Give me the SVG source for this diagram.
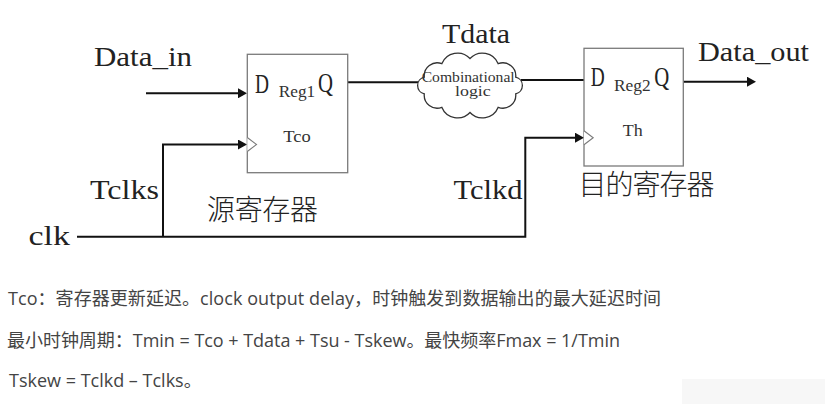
<svg xmlns="http://www.w3.org/2000/svg" width="825" height="404" viewBox="0 0 825 404">
  <style>
    .lbl { font-family: "Liberation Serif", "Times New Roman", serif; fill: #222; }
    .big { font-size: 28px; }
    .mid { font-size: 17px; fill: #333; }
    .small { font-size: 14px; fill: #333; }
    .cjk { font-family: "Noto Sans CJK SC", sans-serif; font-size: 28px; font-weight: 300; fill: #222; }
    .note { font-family: "Open Sans", "Noto Sans CJK SC", sans-serif; font-size: 18px; fill: #444; }
    .box { fill: #fff; stroke: #7a7a7a; stroke-width: 1.3; }
    .clkin { fill: #fff; stroke: #7a7a7a; stroke-width: 1.1; }
    .wire { fill: none; stroke: #111; stroke-width: 2; }
    .cloud { fill: #fff; stroke: #333; stroke-width: 1.3; }
  </style>
  <defs>
    <marker id="arrow" markerUnits="userSpaceOnUse" markerWidth="10" markerHeight="10" refX="5" refY="5" orient="auto">
      <path d="M0,0 L9,5 L0,10 z" fill="#111"/>
    </marker>
  </defs>
  <rect width="825" height="404" fill="#fff"/>
  <rect x="682" y="379" width="143" height="25" fill="#f7f7f7"/>

  <g id="connectors">
    <line class="wire" x1="146" y1="93.3" x2="243" y2="93.3" marker-end="url(#arrow)"/>
    <polyline class="wire" points="77,236.7 525.3,236.7 525.3,137.7 580,137.7" marker-end="url(#arrow)"/>
    <polyline class="wire" points="163,236.7 163,144.5 243,144.5" marker-end="url(#arrow)"/>
    <line class="wire" x1="348" y1="82.3" x2="418" y2="82.3"/>
    <line class="wire" x1="521" y1="80" x2="584" y2="80"/>
    <line class="wire" x1="683" y1="81.7" x2="752" y2="81.7" marker-end="url(#arrow)"/>
  </g>

  <g id="reg1">
    <rect class="box" x="247.3" y="54.3" width="100.4" height="118.4"/>
    <path class="clkin" d="M247.3,137.5 L256.5,144.5 L247.3,151.5"/>
    <text class="lbl big" x="255" y="92.5" textLength="14" lengthAdjust="spacingAndGlyphs">D</text>
    <text class="lbl mid" x="278.7" y="96.7" textLength="36.5" lengthAdjust="spacingAndGlyphs">Reg1</text>
    <text class="lbl big" x="318" y="92" textLength="15" lengthAdjust="spacingAndGlyphs">Q</text>
    <text class="lbl mid" x="283.3" y="141.7" textLength="27.5" lengthAdjust="spacingAndGlyphs">Tco</text>
  </g>

  <g id="comb-logic">
    <path class="cloud" d="M424.3 93.8 A8.5 8.5 0 0 1 424.3 77.2 A13 13 0 0 1 441.8 63.7 A17 17 0 0 1 470 58.5 A17 17 0 0 1 498.2 63.7 A13 13 0 0 1 515.7 77.2 A8.5 8.5 0 0 1 515.7 93.8 A13 13 0 0 1 498.2 107.3 A17 17 0 0 1 470 112.5 A17 17 0 0 1 441.8 107.3 A13 13 0 0 1 424.3 93.8 Z"/>
    <text class="lbl small" x="421.7" y="81.5" textLength="93" lengthAdjust="spacingAndGlyphs">Combinational</text>
    <text class="lbl small" x="455" y="96" textLength="35.7" lengthAdjust="spacingAndGlyphs">logic</text>
  </g>

  <g id="reg2">
    <rect class="box" x="584" y="48.3" width="99.3" height="117.7"/>
    <path class="clkin" d="M584,130.7 L593.2,137.7 L584,144.7"/>
    <text class="lbl big" x="590.7" y="86" textLength="14" lengthAdjust="spacingAndGlyphs">D</text>
    <text class="lbl mid" x="614" y="90.7" textLength="36.7" lengthAdjust="spacingAndGlyphs">Reg2</text>
    <text class="lbl big" x="654.3" y="86" textLength="15" lengthAdjust="spacingAndGlyphs">Q</text>
    <text class="lbl mid" x="622.7" y="135.7" textLength="20" lengthAdjust="spacingAndGlyphs">Th</text>
  </g>

  <g id="labels">
    <text class="lbl big" x="94" y="66" textLength="98" lengthAdjust="spacingAndGlyphs">Data_in</text>
    <text class="lbl big" x="442" y="43" textLength="68" lengthAdjust="spacingAndGlyphs">Tdata</text>
    <text class="lbl big" x="698" y="61" textLength="111" lengthAdjust="spacingAndGlyphs">Data_out</text>
    <text class="lbl big" x="90" y="199" textLength="69" lengthAdjust="spacingAndGlyphs">Tclks</text>
    <text class="lbl big" x="28.5" y="245" textLength="41.5" lengthAdjust="spacingAndGlyphs">clk</text>
    <text class="lbl big" x="453.5" y="198.5" textLength="69" lengthAdjust="spacingAndGlyphs">Tclkd</text>
    <text class="cjk" x="207" y="219.5" textLength="111">源寄存器</text>
    <text class="cjk" x="578.5" y="195" textLength="136">目的寄存器</text>
  </g>

  <g id="notes">
    <text class="note" x="8" y="305" textLength="653">Tco：寄存器更新延迟。clock output delay，时钟触发到数据输出的最大延迟时间</text>
    <text class="note" x="7" y="347" textLength="613">最小时钟周期：Tmin = Tco + Tdata + Tsu - Tskew。最快频率Fmax = 1/Tmin</text>
    <text class="note" x="9" y="387">Tskew = Tclkd – Tclks。</text>
  </g>
</svg>
